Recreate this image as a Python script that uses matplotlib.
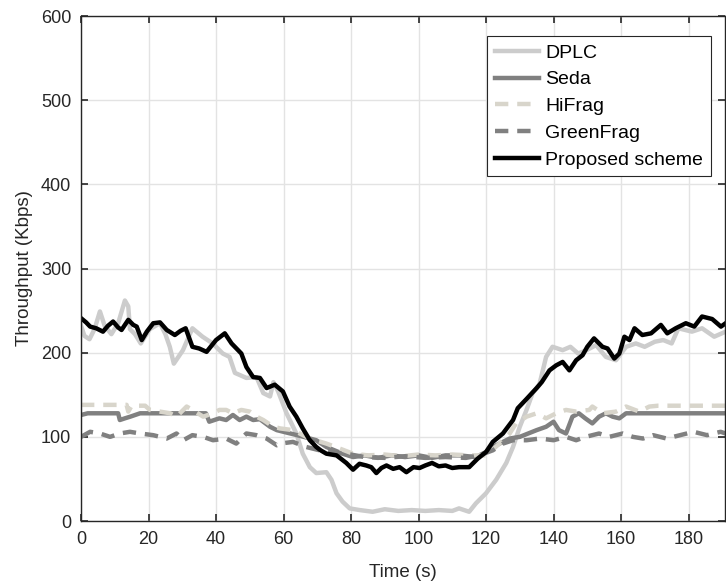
import matplotlib
matplotlib.use('Agg')
import matplotlib.pyplot as plt

plt.rcParams['font.family'] = ['Liberation Sans', 'DejaVu Sans']

# throughput traces (time in s, throughput in Kbps)
t_dplc = [0, 1, 2.5, 4, 5.6, 7, 9, 11, 13, 14, 14.5, 16, 17.7, 20.4, 23.4, 25, 26.3, 27.5, 30.2, 33,
          36, 39, 42, 44, 45.6, 49, 52, 54, 56, 57, 58.4, 60.9, 63.8, 65.7, 67.8, 69.7, 72.7, 74.2, 75.7,
          77.5, 79.6, 82.6, 86.4, 90, 94, 98, 102, 106, 110, 112, 115, 117, 120, 123, 126, 128, 130, 132,
          133.8, 135.8, 137.8, 139.7, 142.7, 145, 147.3, 149.8, 152.6, 155.5, 158.5, 161.5, 164.4, 167,
          170, 172.5, 175, 177, 181, 184, 187.6, 191]
v_dplc = [232, 220, 216, 228, 249, 232, 222, 235, 262, 255, 228, 222, 211, 228, 235, 222, 207, 187, 203, 229,
          219, 211, 199, 195, 176, 170, 171, 152, 148, 165, 154, 128, 104, 80, 64, 57, 58, 49, 33,
          23, 15, 13, 11, 14, 12, 13, 12, 13, 12, 15, 11, 21, 33, 49, 69, 88, 112, 132,
          152, 162, 195, 207, 203, 207, 199, 203, 209, 195, 191, 207, 211, 207,
          213, 215, 211, 229, 225, 229, 219, 225]

t_seda = [0, 2, 11, 11.5, 13, 14.6, 17.5, 31, 37, 38, 41, 43, 45, 47, 49, 51, 53, 56, 58, 62, 66, 69.7,
          72.7, 77.5, 80.6, 84, 88, 92, 96, 100, 104, 108, 112, 117, 120, 123, 127, 130, 135, 137.8, 140,
          141.6, 143.7, 145.6, 147.5, 149.4, 151.5, 153.5, 155.5, 157.5, 159.5, 161.5, 191]
v_seda = [126, 128, 128, 120, 122, 124, 128, 128, 128, 118, 122, 120, 126, 120, 124, 120, 121, 112, 108, 104, 100, 96,
          88, 80, 76, 78, 75, 78, 76, 78, 75, 78, 78, 76, 82, 90, 98, 100, 108, 112, 118,
          108, 104, 124, 128, 122, 116, 124, 128, 124, 122, 128, 128]

t_hifrag = [0, 13.5, 14, 15, 19, 20.4, 23.4, 26.4, 28.3, 31.3, 33, 36.2, 39.1, 41, 43, 45, 47.5, 50, 52, 54,
            57, 59, 62.8, 67.8, 72.7, 76.7, 80.6, 85, 90, 95, 100, 105, 110, 115, 120, 124, 127, 128.9, 132,
            135, 137.8, 140.8, 143.7, 146.7, 150.6, 151.5, 154.5, 158.5, 161.5, 165.4, 168.4, 171, 191]
v_hifrag = [138, 138, 130, 137, 137, 132, 130, 128, 124, 136, 132, 124, 128, 132, 132, 128, 132, 130, 124, 120,
            112, 110, 108, 98, 92, 86, 80, 78, 79, 77, 79, 78, 79, 78, 78, 92, 104, 116, 124,
            128, 122, 128, 132, 130, 132, 136, 128, 130, 136, 130, 136, 137, 137]

t_green = [0, 2.7, 5.6, 8.6, 11.5, 14.5, 17.5, 21.4, 25.4, 28.3, 30.3, 33, 36.2, 39.1, 43, 46, 49, 52, 55, 58,
           59, 62.8, 66.7, 72.7, 78.6, 84, 90, 96, 102, 108, 114, 118, 122, 125, 128, 132, 136, 140, 143.7,
           146.7, 149.5, 153.5, 156.5, 160.5, 163.5, 166.5, 169.5, 173.5, 177.5, 181.5, 185.5, 189.5, 191]
v_green = [100, 106, 104, 100, 104, 106, 104, 102, 98, 104, 96, 102, 100, 96, 98, 92, 104, 102, 98, 90,
           92, 94, 88, 82, 80, 76, 75, 77, 75, 76, 75, 78, 84, 92, 96, 96, 98, 96, 100,
           96, 100, 104, 100, 104, 100, 98, 102, 98, 102, 106, 102, 106, 104]

t_prop = [0, 1.5, 2.7, 4.5, 6.5, 8, 9.5, 11, 12, 14, 15.5, 16.5, 18, 19.5, 21.4, 23.4, 25.4, 27.8, 29.5, 31,
          33, 35, 37.2, 40, 42.6, 44.6, 47.5, 49, 51, 53, 55, 57.4, 59.8, 61.8, 63.8, 65.7, 67.8, 69.7, 71,
          72.7, 75.7, 77, 78.6, 80.6, 82.5, 84.5, 86, 87.5, 89, 90.5, 92.5, 94.4, 96.4, 98.5, 100.3, 102,
          104, 106, 108, 110, 112, 115, 117.5, 120, 122, 125, 128, 129.4, 132, 135, 136.5, 138.8, 140.8,
          142.7, 144.7, 146.7, 148.6, 150, 152, 154.5, 156, 158, 159.5, 161, 162.5, 164, 166.3, 168.9,
          171.8, 173.7, 176.2, 179.2, 181.7, 184, 187, 189.6, 191]
v_prop = [241, 236, 231, 229, 225, 232, 237, 230, 227, 239, 233, 231, 215, 225, 235, 236, 227, 221, 226, 229,
          207, 205, 201, 215, 223, 211, 199, 183, 171, 170, 158, 162, 154, 136, 124, 110, 96, 88, 84,
          80, 78, 74, 69, 61, 68, 66, 64, 57, 63, 66, 62, 64, 58, 64, 63, 66,
          69, 65, 66, 63, 64, 64, 74, 82, 94, 104, 120, 134, 145, 158, 165, 179, 185,
          189, 179, 191, 197, 207, 217, 207, 205, 193, 199, 219, 215, 229, 221, 223,
          233, 223, 229, 235, 231, 243, 240, 231, 235]

labels = ['DPLC', 'Seda', 'HiFrag', 'GreenFrag', 'Proposed scheme']

fig = plt.figure(figsize=(7.26, 5.87), dpi=100)
ax = fig.add_axes([0.1116, 0.1124, 0.8870, 0.8603])

lw = 3.2
ax.plot(t_dplc, v_dplc, color='#cccccc', lw=lw, label=labels[0])
ax.plot(t_seda, v_seda, color='#808080', lw=lw, label=labels[1])
ax.plot(t_hifrag, v_hifrag, color='#d8d5cb', lw=lw, ls=(0, (3, 2)), label=labels[2])
ax.plot(t_green, v_green, color='#808080', lw=lw, ls=(0, (3, 2)), label=labels[3])
ax.plot(t_prop, v_prop, color='black', lw=lw, label=labels[4])

ax.set_xlim(0, 190.8)
ax.set_ylim(0, 600)
ax.set_xticks(range(0, 181, 20))
ax.set_yticks(range(0, 601, 100))
ax.grid(True, color='#e3e3e3', lw=1.0)
ax.set_axisbelow(True)

ax.tick_params(direction='in', length=5, width=1.2, top=True, right=True,
               labelsize=13, colors='#262626', pad=7)
for s in ax.spines.values():
    s.set_color('#262626')
    s.set_linewidth(1.0)

ax.set_xlabel('Time (s)', fontsize=13.5, color='#262626', labelpad=12)
ax.set_ylabel('Throughput (Kbps)', fontsize=13.5, color='#262626', labelpad=6)

leg = ax.legend(loc='upper right', bbox_to_anchor=(0.978, 0.960), borderaxespad=0,
                fontsize=14, handlelength=2.3, handletextpad=0.3, labelspacing=0.47,
                fancybox=False, framealpha=1, edgecolor='#262626', borderpad=0.4)
leg.get_frame().set_linewidth(0.8)

fig.savefig('out.png', dpi=100)
